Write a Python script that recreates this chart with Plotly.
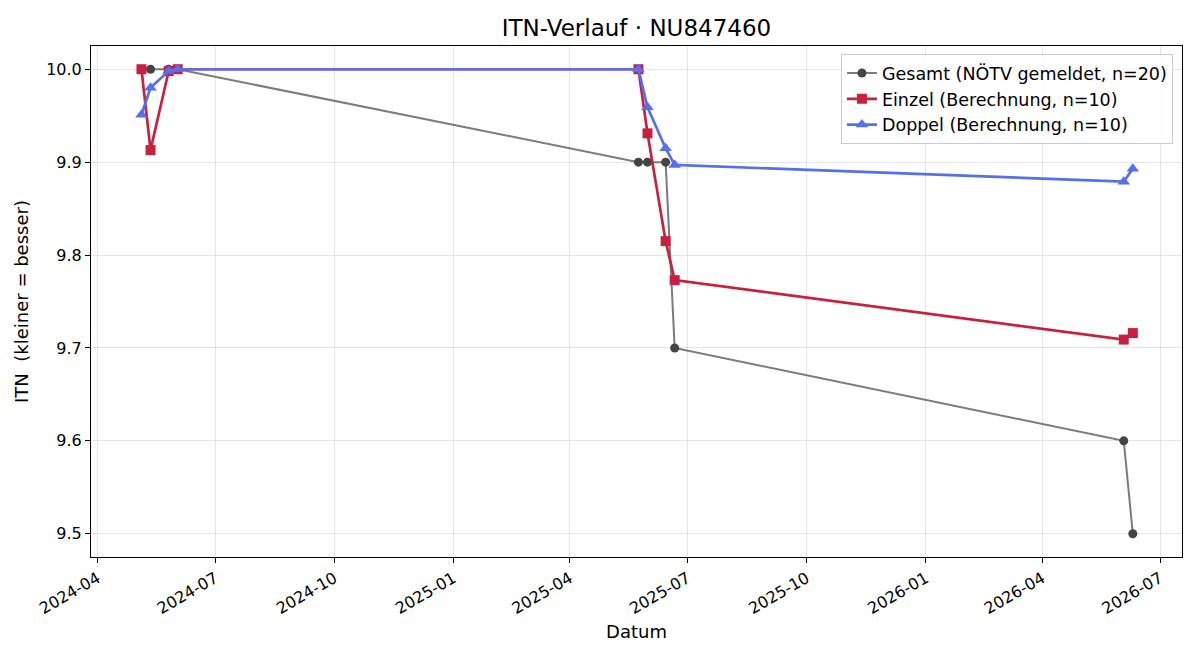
import plotly.graph_objects as go

dates = ["2024-05-05", "2024-05-12", "2024-05-26", "2024-06-02",
         "2025-05-24", "2025-05-31", "2025-06-14", "2025-06-21",
         "2026-06-03", "2026-06-10"]
gesamt = [10.0, 10.0, 10.0, 10.0, 9.9, 9.9, 9.9, 9.7, 9.6, 9.5]
einzel = [10.0, 9.913, 9.998, 10.0, 10.0, 9.931, 9.815, 9.773, 9.709, 9.716]
doppel = [9.951, 9.980, 9.998, 10.0, 10.0, 9.959, 9.915, 9.897, 9.879, 9.893]
y_ticks = [9.5, 9.6, 9.7, 9.8, 9.9, 10.0]

FONT = "DejaVu Sans"
fig = go.Figure()
fig.add_trace(go.Scatter(
    x=dates, y=gesamt, mode="lines+markers",
    name="Gesamt (NÖTV gemeldet, n=20)",
    line=dict(color="rgba(90,90,90,0.8)", width=2),
    marker=dict(symbol="circle", size=9, color="#444444"),
))
fig.add_trace(go.Scatter(
    x=dates, y=einzel, mode="lines+markers",
    name="Einzel (Berechnung, n=10)",
    line=dict(color="#C8203F", width=2.7),
    marker=dict(symbol="square", size=10, color="#C8203F"),
))
fig.add_trace(go.Scatter(
    x=dates, y=doppel, mode="lines+markers",
    name="Doppel (Berechnung, n=10)",
    line=dict(color="#5470EE", width=2.7),
    marker=dict(symbol="triangle-up", size=11, color="#5470EE"),
))

fig.update_layout(
    width=1200, height=660,
    margin=dict(l=91, r=18, t=46, b=103),
    paper_bgcolor="white", plot_bgcolor="white",
    font=dict(family=FONT, size=16, color="black"),
    title=dict(text="ITN-Verlauf · NU847460", x=(91 + 1182) / 2 / 1200, xanchor="center",
               y=1 - 28 / 660, yanchor="middle", font=dict(size=23)),
    legend=dict(x=0.9917, y=0.984, xanchor="right", yanchor="top",
                bgcolor="rgba(255,255,255,0.85)", bordercolor="#cccccc", borderwidth=1,
                font=dict(size=17.5)),
    showlegend=True,
)
fig.update_xaxes(
    type="date", range=["2024-03-27", "2026-07-18"],
    tick0="2024-04-01", dtick="M3", tickformat="%Y-%m", tickangle=-30,
    ticks="outside", ticklen=5, tickcolor="black",
    showgrid=True, gridcolor="rgba(0,0,0,0.1)",
    showline=True, linecolor="black", linewidth=1, mirror=True,
    title=dict(text="Datum", font=dict(size=18), standoff=8), tickfont=dict(size=16),
)
fig.update_yaxes(
    range=[9.475, 10.025], tickvals=y_ticks, tickformat=".1f",
    ticks="outside", ticklen=5, tickcolor="black",
    showgrid=True, gridcolor="rgba(0,0,0,0.1)", zeroline=False,
    showline=True, linecolor="black", linewidth=1, mirror=True,
    title=dict(text="ITN\u00a0 (kleiner = besser)", font=dict(size=18), standoff=12),
    tickfont=dict(size=16),
)
fig.write_html("out.html")
